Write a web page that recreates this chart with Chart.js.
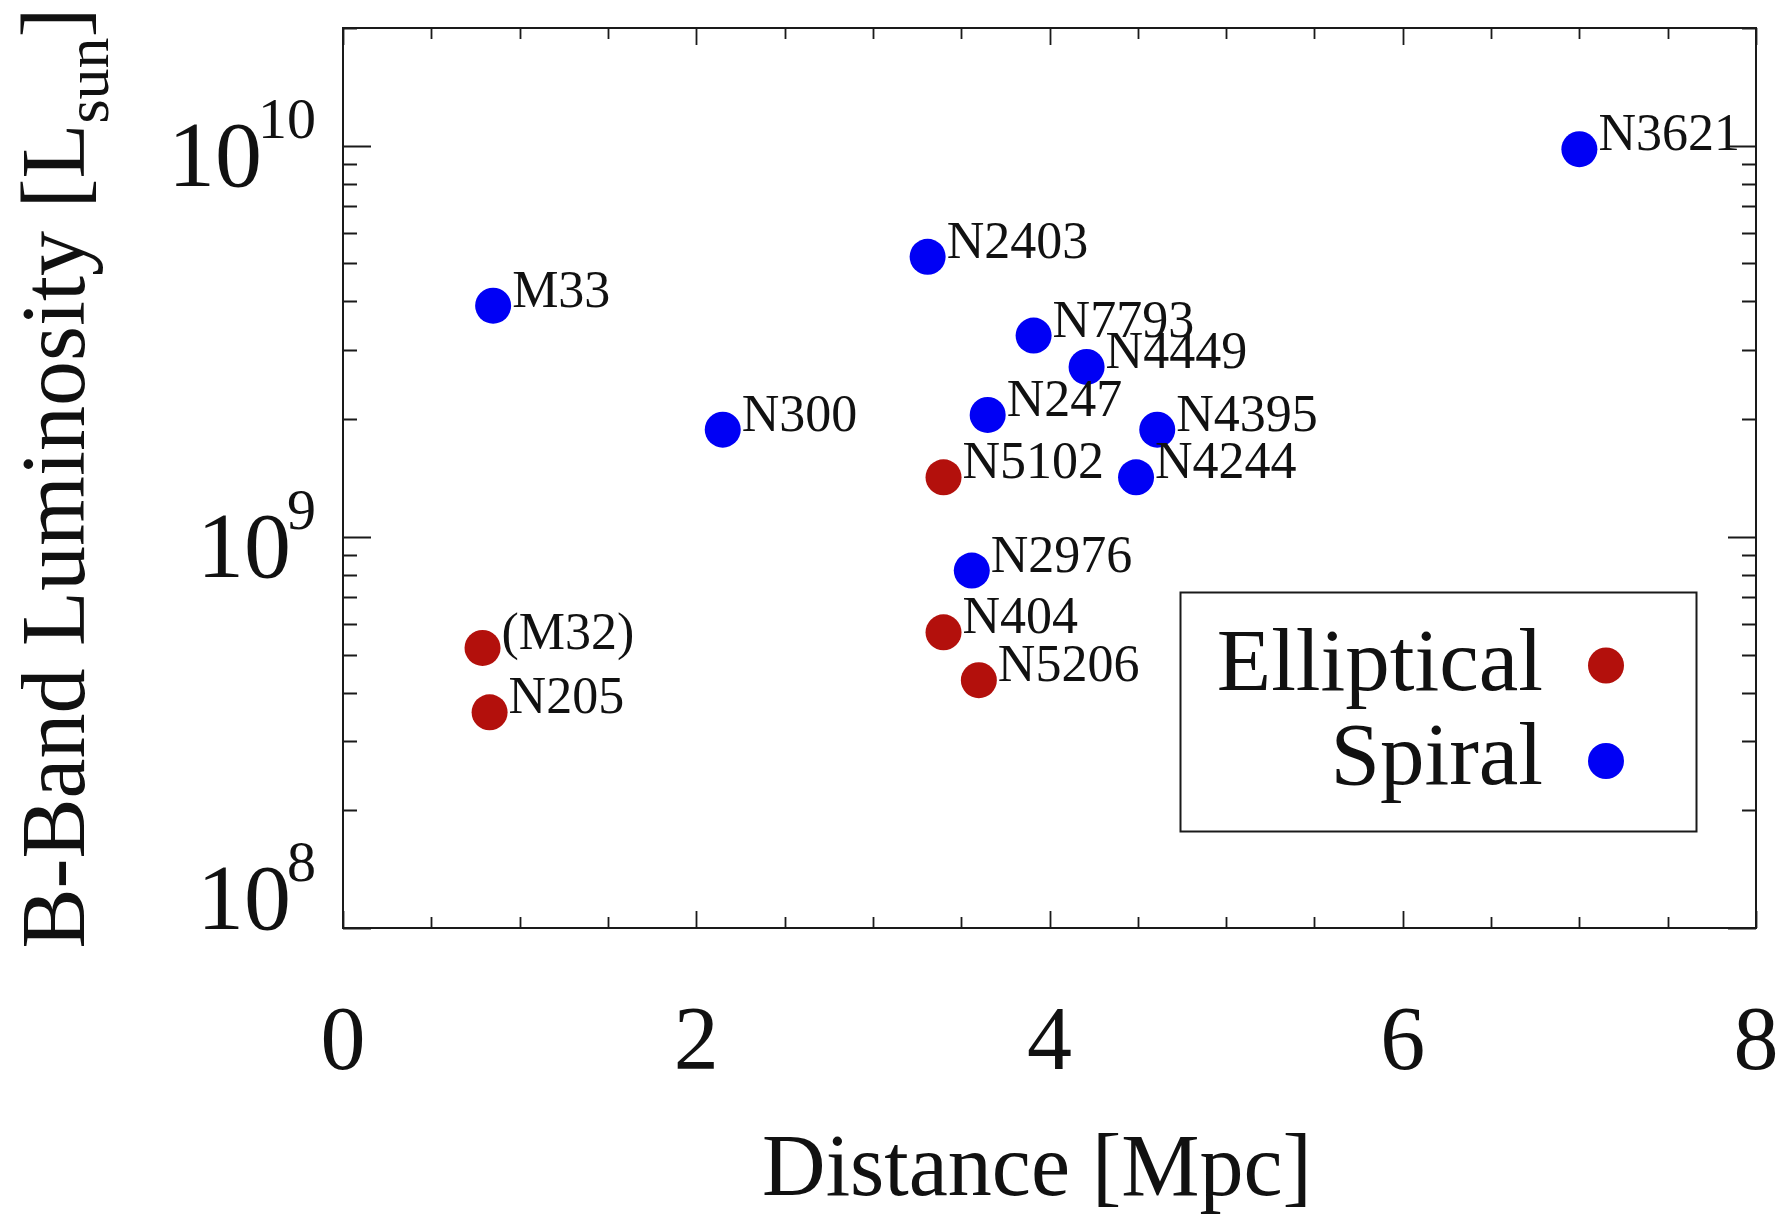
<!DOCTYPE html>
<html>
<head>
<meta charset="utf-8">
<script src="https://cdn.jsdelivr.net/npm/chart.js@4/dist/chart.umd.min.js"></script>
<style>
  html, body { margin: 0; padding: 0; background: #ffffff; }
  #wrap { width: 1779px; height: 1216px; position: relative; }
</style>
</head>
<body>
<div id="wrap"><canvas id="c" width="1779" height="1216"></canvas></div>
<script>
// ---- data ----
const ellipticalNames = ['(M32)', 'N205', 'N5102', 'N404', 'N5206'];
const ellipticalDist  = [0.79, 0.83, 3.40, 3.40, 3.60];
const ellipticalLum   = [5.2e8, 3.56e8, 1.42e9, 5.7e8, 4.3e8];

const spiralNames = ['M33', 'N300', 'N2403', 'N7793', 'N4449', 'N247', 'N4395', 'N4244', 'N2976', 'N3621'];
const spiralDist  = [0.85, 2.15, 3.31, 3.91, 4.21, 3.65, 4.61, 4.49, 3.56, 7.00];
const spiralLum   = [3.9e9, 1.88e9, 5.2e9, 3.27e9, 2.72e9, 2.05e9, 1.88e9, 1.42e9, 8.2e8, 9.8e9];

const seriesNames = ['Elliptical', 'Spiral'];
const xTickValues = [0, 2, 4, 6, 8];
const yTickValues = [1e8, 1e9, 1e10];
const yTickExponents = ['8', '9', '10'];
const xTitle = 'Distance [Mpc]';
const yTitleMain = 'B-Band Luminosity [L';
const yTitleSub = 'sun';
const yTitleEnd = ']';

// ---- styles ----
const RED = '#b3100c';
const BLUE = '#0000f5';
const SERIF = '"Liberation Serif", "Times New Roman", Times, serif';
const INK = '#111111';

function pts(xs, ys) { return xs.map((v, i) => ({ x: v, y: ys[i] })); }

const labelsByDataset = [ellipticalNames, spiralNames];

const customDraw = {
  id: 'customDraw',
  afterDatasetsDraw(chart) {
    const ctx = chart.ctx;
    ctx.save();
    ctx.fillStyle = INK;
    ctx.font = '52px ' + SERIF;
    ctx.textAlign = 'left';
    ctx.textBaseline = 'alphabetic';
    labelsByDataset.forEach((names, di) => {
      const meta = chart.getDatasetMeta(di);
      meta.data.forEach((el, j) => {
        ctx.fillText(names[j], el.x + 19, el.y + 1);
      });
    });
    ctx.restore();
  },
  afterDraw(chart) {
    const ctx = chart.ctx;
    const a = chart.chartArea;
    const xs = chart.scales.x, ys = chart.scales.y;
    ctx.save();
    // frame
    ctx.strokeStyle = '#1a1a1a';
    ctx.lineWidth = 2;
    ctx.strokeRect(a.left, a.top, a.right - a.left, a.bottom - a.top);

    // x ticks (inward, mirrored)
    ctx.lineWidth = 1.8;
    ctx.beginPath();
    for (let v = 0; v <= 8.0001; v += 0.5) {
      const px = Math.round(xs.getPixelForValue(v)) + 0.5;
      const major = Math.abs(v / 2 - Math.round(v / 2)) < 1e-6;
      const len = major ? 17 : 11;
      ctx.moveTo(px, a.bottom); ctx.lineTo(px, a.bottom - len);
      ctx.moveTo(px, a.top); ctx.lineTo(px, a.top + len);
    }
    // y ticks (log)
    for (let e = 8; e <= 10; e++) {
      for (let k = 1; k <= 9; k++) {
        const v = k * Math.pow(10, e);
        if (v > ys.max * 1.0001) break;
        const py = Math.round(ys.getPixelForValue(v)) + 0.5;
        const len = k === 1 ? 28 : 14;
        ctx.moveTo(a.left, py); ctx.lineTo(a.left + len, py);
        ctx.moveTo(a.right, py); ctx.lineTo(a.right - len, py);
      }
    }
    ctx.stroke();

    // x tick labels
    ctx.fillStyle = INK;
    ctx.font = '90px ' + SERIF;
    ctx.textAlign = 'center';
    ctx.textBaseline = 'alphabetic';
    xTickValues.forEach(v => {
      ctx.fillText(String(v), xs.getPixelForValue(v), 1069);
    });

    // y tick labels: 10^n
    yTickValues.forEach((v, i) => {
      const py = ys.getPixelForValue(v);
      const base = (i === 0) ? py + 1 : py + 40;
      const rightEdge = 316;
      ctx.font = '58px ' + SERIF;
      ctx.textAlign = 'right';
      const supW = ctx.measureText(yTickExponents[i]).width;
      ctx.fillText(yTickExponents[i], rightEdge, base - 48);
      ctx.font = '94px ' + SERIF;
      ctx.fillText('10', rightEdge - supW + 4, base);
    });

    // x title
    ctx.font = '88px ' + SERIF;
    ctx.textAlign = 'center';
    ctx.fillText(xTitle, 1037, 1195);

    // y title (rotated) with subscript
    ctx.save();
    const fMain = '90px ' + SERIF, fSub = '62px ' + SERIF;
    ctx.font = fMain; const w1 = ctx.measureText(yTitleMain).width;
    const w3 = ctx.measureText(yTitleEnd).width;
    ctx.font = fSub; const w2 = ctx.measureText(yTitleSub).width;
    const total = w1 + w2 + w3;
    const cy = (a.top + a.bottom) / 2;
    ctx.translate(84, cy + total / 2);
    ctx.rotate(-Math.PI / 2);
    ctx.textAlign = 'left';
    ctx.font = fMain; ctx.fillText(yTitleMain, 0, 0);
    ctx.font = fSub; ctx.fillText(yTitleSub, w1, 24);
    ctx.font = fMain; ctx.fillText(yTitleEnd, w1 + w2, 0);
    ctx.restore();

    // legend
    ctx.strokeStyle = '#1a1a1a';
    ctx.lineWidth = 2;
    ctx.strokeRect(1180.5, 592.5, 516, 239);
    ctx.font = '89px ' + SERIF;
    ctx.textAlign = 'right';
    const legendColors = [RED, BLUE];
    const legendY = [690, 784];
    const markerY = [665.5, 761];
    seriesNames.forEach((name, i) => {
      ctx.fillStyle = INK;
      ctx.fillText(name, 1543, legendY[i]);
      ctx.fillStyle = legendColors[i];
      ctx.beginPath();
      ctx.arc(1606, markerY[i], 18, 0, Math.PI * 2);
      ctx.fill();
    });
    ctx.restore();
  }
};

new Chart(document.getElementById('c'), {
  type: 'scatter',
  data: {
    datasets: [
      { label: seriesNames[0], data: pts(ellipticalDist, ellipticalLum),
        backgroundColor: RED, borderWidth: 0, pointRadius: 18, pointHoverRadius: 18 },
      { label: seriesNames[1], data: pts(spiralDist, spiralLum),
        backgroundColor: BLUE, borderWidth: 0, pointRadius: 18, pointHoverRadius: 18 }
    ]
  },
  options: {
    responsive: false,
    animation: false,
    devicePixelRatio: 1,
    events: [],
    layout: { padding: { left: 343, right: 23, top: 28, bottom: 288 } },
    plugins: { legend: { display: false }, tooltip: { enabled: false } },
    scales: {
      x: { type: 'linear', display: false, min: 0, max: 8 },
      y: { type: 'logarithmic', display: false, min: 1e8, max: 2e10 }
    }
  },
  plugins: [customDraw]
});
</script>
</body>
</html>
